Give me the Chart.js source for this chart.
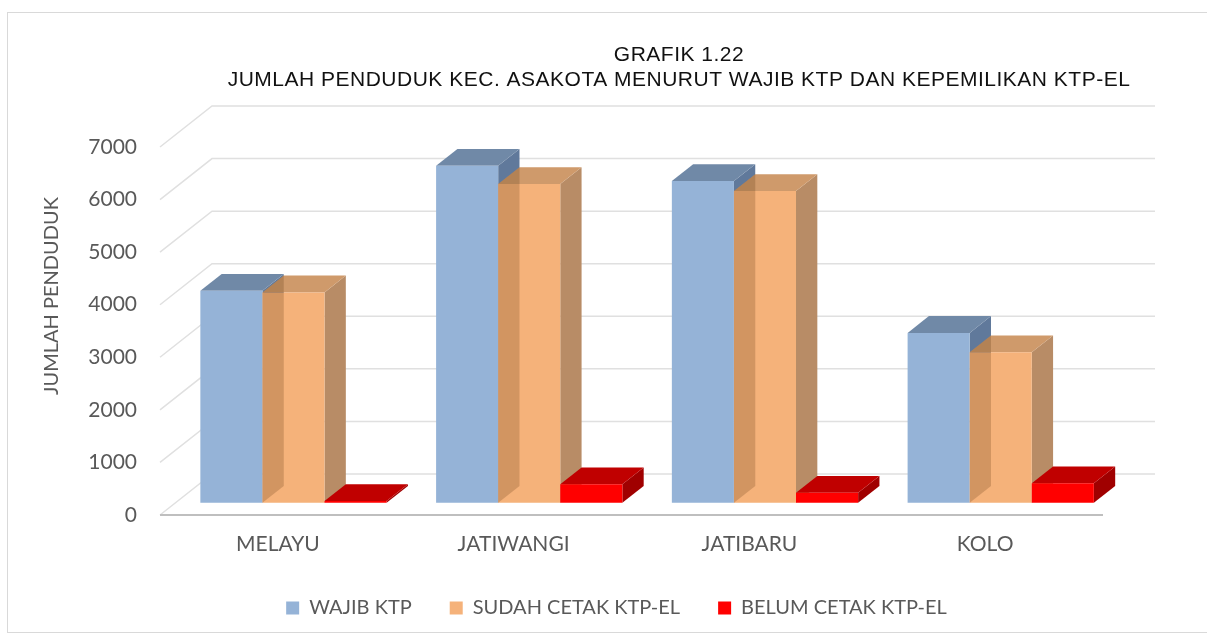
<!DOCTYPE html>
<html><head><meta charset="utf-8">
<script src="https://cdn.jsdelivr.net/npm/chart.js@4.4.1/dist/chart.umd.min.js"></script>
<style>html,body{margin:0;padding:0;background:#fff;overflow:hidden}canvas{display:block}</style>
</head><body>
<canvas id="c" width="1207" height="639"></canvas>
<script>
const categories = ['MELAYU', 'JATIWANGI', 'JATIBARU', 'KOLO'];
const wajibKtp = [4030, 6410, 6120, 3230];
const sudahCetak = [4000, 6060, 5930, 2860];
const belumCetak = [30, 350, 190, 370];
const seriesNames = ['WAJIB KTP', 'SUDAH CETAK KTP-EL', 'BELUM CETAK KTP-EL'];
const yTickValues = [0, 1000, 2000, 3000, 4000, 5000, 6000, 7000];
const titleLines = ['GRAFIK 1.22', 'JUMLAH PENDUDUK KEC. ASAKOTA MENURUT WAJIB KTP DAN KEPEMILIKAN KTP-EL'];
const yAxisTitle = 'JUMLAH PENDUDUK';

// 3D look
const DX = 52, DY = -41, F_FRONT = 0.3, F_BACK = 0.71;
const faceColors = [
  {front: '#95b3d7', top: '#7089a7', side: '#60799b'},
  {front: '#f5b27a', top: '#cf9a6b', side: '#b88c66'},
  {front: '#ff0000', top: '#c00000', side: '#a00000'}
];
const LABEL_FONT = 'Lato, "Open Sans", sans-serif';

function boxFaces(el) {
  const p = el.getProps(['x', 'y', 'base', 'width'], true);
  const x0 = p.x - p.width / 2, x1 = p.x + p.width / 2;
  const fx = F_FRONT * DX, fy = F_FRONT * DY, bx = F_BACK * DX, by = F_BACK * DY;
  return {
    front: [[x0 + fx, p.y + fy], [x1 + fx, p.y + fy], [x1 + fx, p.base + fy], [x0 + fx, p.base + fy]],
    top: [[x0 + fx, p.y + fy], [x1 + fx, p.y + fy], [x1 + bx, p.y + by], [x0 + bx, p.y + by]],
    side: [[x1 + fx, p.y + fy], [x1 + bx, p.y + by], [x1 + bx, p.base + by], [x1 + fx, p.base + fy]]
  };
}
function poly(ctx, pts) {
  ctx.moveTo(pts[0][0], pts[0][1]);
  for (let i = 1; i < pts.length; i++) ctx.lineTo(pts[i][0], pts[i][1]);
  ctx.closePath();
}
function fillPoly(ctx, pts, color) {
  ctx.beginPath(); poly(ctx, pts); ctx.fillStyle = color; ctx.fill();
}

const threeD = {
  id: 'threeD',
  beforeDraw(chart) {
    const ctx = chart.ctx;
    ctx.save();
    ctx.strokeStyle = '#d9d9d9'; ctx.lineWidth = 1;
    ctx.strokeRect(7.5, 12.5, 1210, 620);
    ctx.restore();
  },
  beforeDatasetsDraw(chart) {
    const ctx = chart.ctx, ys = chart.scales.y, a = chart.chartArea;
    ctx.save();
    ctx.strokeStyle = '#e0e0e0'; ctx.lineWidth = 1.5;
    ys.ticks.forEach(t => {
      const y = ys.getPixelForValue(t.value);
      ctx.beginPath();
      ctx.moveTo(a.left, y); ctx.lineTo(a.left + DX, y + DY); ctx.lineTo(a.right + DX, y + DY);
      ctx.stroke();
    });
    ctx.strokeStyle = '#bfbfbf'; ctx.lineWidth = 2;
    const y0 = ys.getPixelForValue(0);
    ctx.beginPath(); ctx.moveTo(a.left, y0); ctx.lineTo(a.right, y0); ctx.stroke();

    // y tick labels (from the scale's ticks)
    ctx.fillStyle = '#595959';
    ctx.font = '21px ' + LABEL_FONT;
    ctx.textAlign = 'right'; ctx.textBaseline = 'middle';
    ys.ticks.forEach(t => {
      ctx.fillText(String(t.value), a.left - 23, ys.getPixelForValue(t.value));
    });

    chart.data.datasets.forEach((ds, d) => {
      const meta = chart.getDatasetMeta(d);
      const c = faceColors[d];
      meta.data.forEach((el, j) => {
        const f = boxFaces(el);
        fillPoly(ctx, f.side, c.side);
        fillPoly(ctx, f.top, c.top);
        fillPoly(ctx, f.front, c.front);
        if (d === 1) {
          const prev = boxFaces(chart.getDatasetMeta(0).data[j]);
          ctx.save();
          ctx.beginPath(); poly(ctx, f.front); poly(ctx, f.top); ctx.clip();
          fillPoly(ctx, prev.side, 'rgba(70,35,0,0.2)');
          ctx.restore();
        }
      });
    });
    ctx.restore();
    return false;
  },
  afterDraw(chart) {
    const ctx = chart.ctx;
    ctx.save();
    ctx.fillStyle = '#111';
    ctx.font = '21px "Liberation Sans", Arial, sans-serif';
    ctx.letterSpacing = '0.5px';
    ctx.textAlign = 'center'; ctx.textBaseline = 'middle';
    ctx.fillText(titleLines[0], 679, 55);
    ctx.fillText(titleLines[1], 679, 80);
    ctx.letterSpacing = '0px';
    ctx.translate(52, 296);
    ctx.rotate(-Math.PI / 2);
    ctx.fillStyle = '#595959';
    ctx.font = '20px ' + LABEL_FONT;
    ctx.fillText(yAxisTitle, 0, 0);
    ctx.restore();
  }
};

new Chart(document.getElementById('c'), {
  type: 'bar',
  data: {
    labels: categories,
    datasets: [
      {label: seriesNames[0], data: wajibKtp, backgroundColor: faceColors[0].front, borderWidth: 0},
      {label: seriesNames[1], data: sudahCetak, backgroundColor: faceColors[1].front, borderWidth: 0},
      {label: seriesNames[2], data: belumCetak, backgroundColor: faceColors[2].front, borderWidth: 0}
    ]
  },
  options: {
    responsive: false, animation: false, devicePixelRatio: 1,
    datasets: {bar: {categoryPercentage: 0.79, barPercentage: 1.0}},
    layout: {padding: {left: 130, right: 104, top: 147, bottom: 11}},
    plugins: {
      title: {display: false},
      tooltip: {enabled: false},
      legend: {
        position: 'bottom',
        labels: {
          boxWidth: 13, boxHeight: 13, padding: 38, color: '#595959',
          font: {family: LABEL_FONT, size: 20}
        }
      }
    },
    scales: {
      x: {
        grid: {display: false, drawTicks: false}, border: {display: false},
        afterFit(s) { s.height = 45; },
        ticks: {color: '#595959', padding: 17, maxRotation: 0, font: {family: LABEL_FONT, size: 21}}
      },
      y: {
        min: 0, max: 7000,
        afterBuildTicks(s) { s.ticks = yTickValues.map(v => ({value: v})); },
        afterFit(s) { s.width = 30; },
        grid: {display: false, drawTicks: false}, border: {display: false},
        ticks: {display: false}
      }
    }
  },
  plugins: [threeD]
});
</script>
</body></html>
